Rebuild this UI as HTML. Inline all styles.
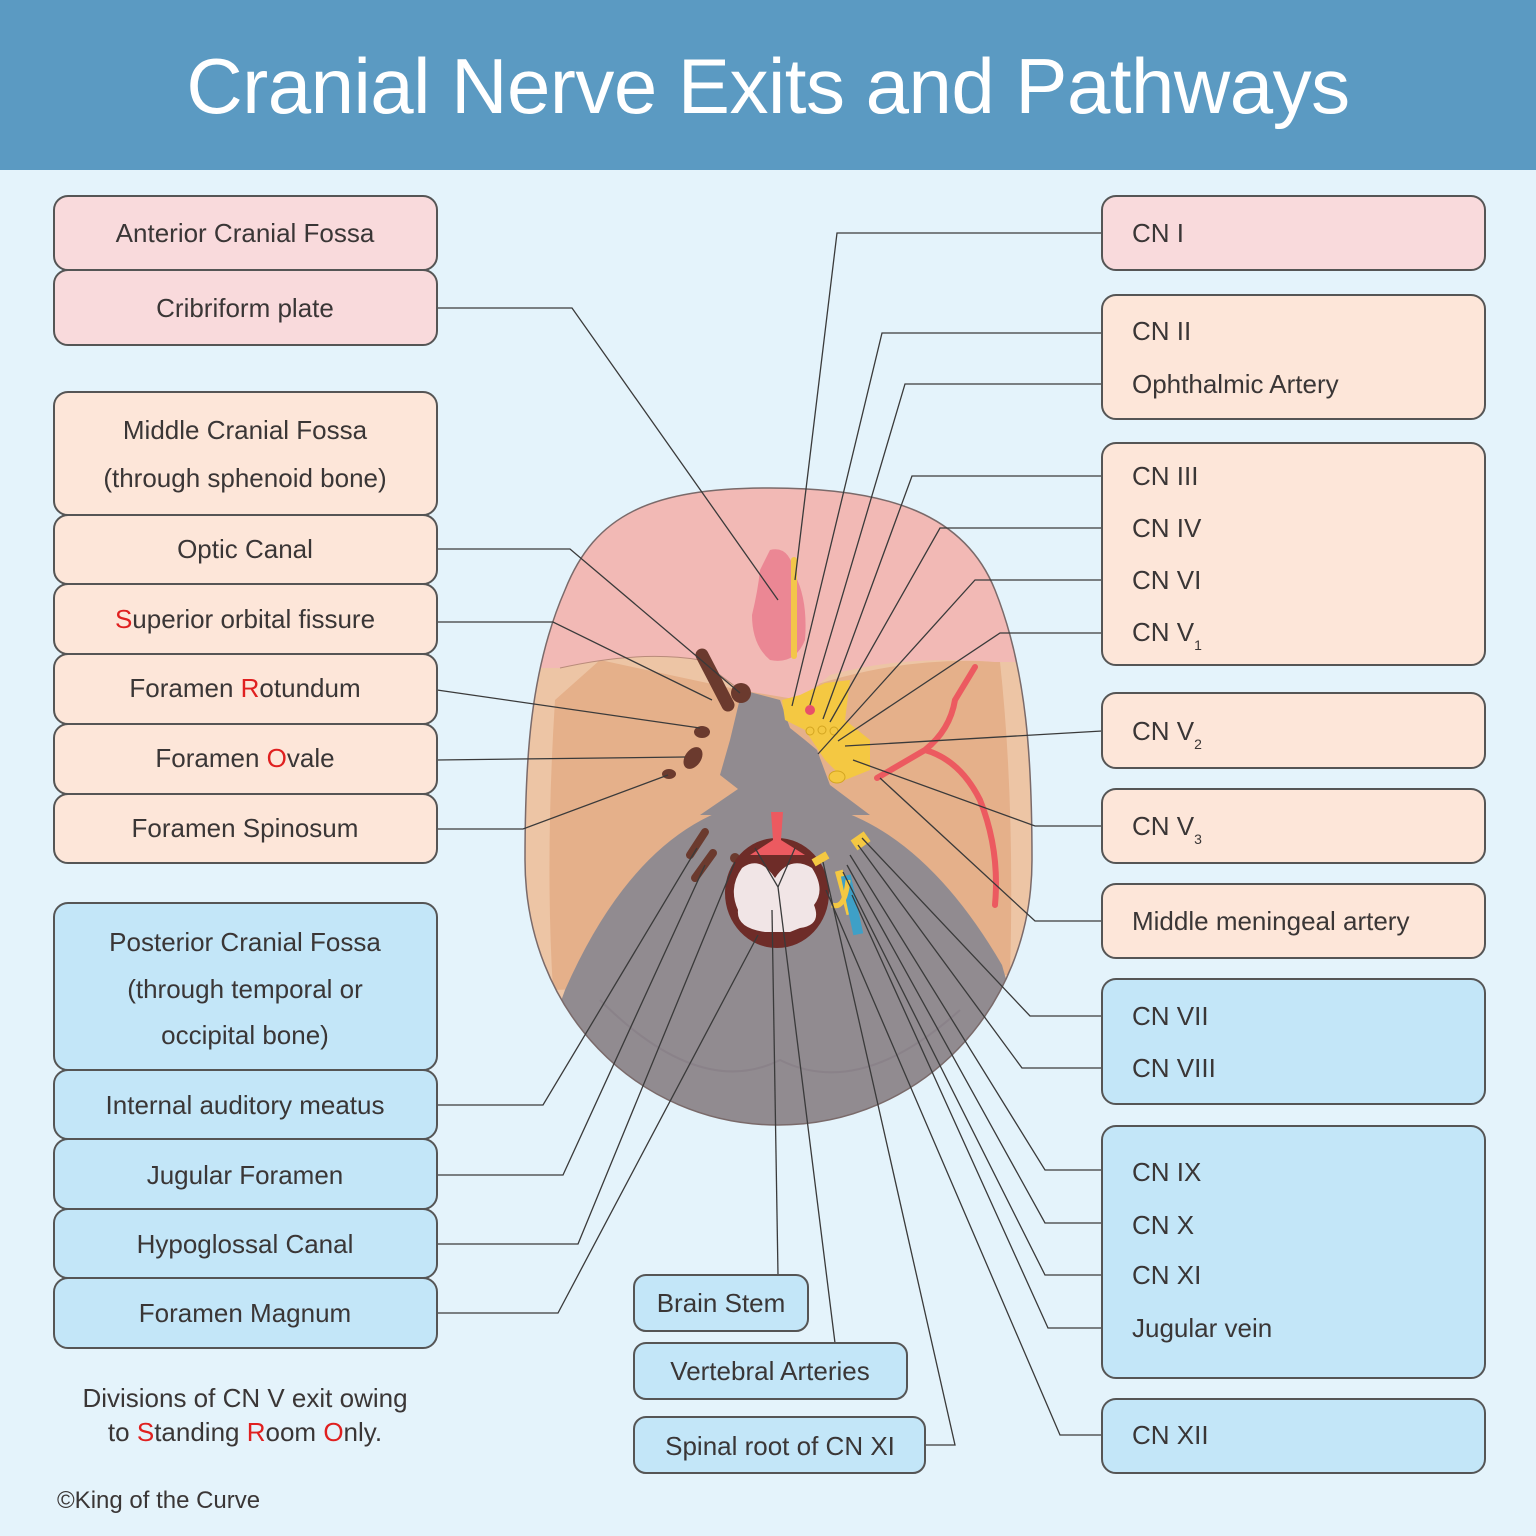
<!DOCTYPE html>
<html><head><meta charset="utf-8"><style>
html,body{margin:0;padding:0}
body{width:1536px;height:1536px;background:#e4f3fb;font-family:"Liberation Sans",sans-serif;position:relative;overflow:hidden}
.hdr{position:absolute;left:0;top:0;width:1536px;height:170px;background:#5b9ac2;color:#fff;font-size:78px;text-align:center;line-height:172px;letter-spacing:-0.5px}
svg{position:absolute;left:0;top:0}
.r{fill:#e02020}
</style></head><body>
<div class="hdr">Cranial Nerve Exits and Pathways</div>
<svg width="1536" height="1536" viewBox="0 0 1536 1536" font-family="Liberation Sans, sans-serif" font-size="26" fill="#3a3636">
<defs>
<clipPath id="sk"><path d="M770,488 C890,488 965,515 995,590 C1027,670 1032,760 1032,860 C1032,1010 920,1125 778,1125 C636,1125 525,1010 525,860 C525,760 530,670 565,590 C595,515 650,488 770,488Z"/></clipPath>
</defs>
<g clip-path="url(#sk)">
<rect x="500" y="470" width="560" height="700" fill="#edc5a5"/>
<path d="M553,990 Q545,860 555,700 L600,660 L740,690 L800,690 Q900,655 1000,662 Q1015,800 1010,975Z" fill="#e5b08a"/>
<path d="M500,668 L560,668 Q640,650 700,660 L740,690 L800,700 L830,675 Q900,655 995,662 L1060,662 L1060,470 L500,470Z" fill="#f2b9b5"/>
<path d="M560,668 Q640,650 700,660 L740,690" fill="none" stroke="#b98b7a" stroke-width="1"/>
<path d="M565,990 Q640,820 760,800 Q900,790 1002,965 L1060,1170 L500,1170Z" fill="#918b90"/>
<path d="M742,690 L780,700 L790,728 L805,740 L817,750 L830,785 L870,815 L700,815 L738,789 L720,775 L730,740Z" fill="#918b90"/>
<path d="M600,1000 Q700,1100 780,1060 Q860,1100 960,1010" fill="none" stroke="#8a8289" stroke-width="2"/>
</g>
<path d="M770,488 C890,488 965,515 995,590 C1027,670 1032,760 1032,860 C1032,1010 920,1125 778,1125 C636,1125 525,1010 525,860 C525,760 530,670 565,590 C595,515 650,488 770,488Z" fill="none" stroke="#7a6a6a" stroke-width="1.5"/>
<path d="M770,550 Q790,545 795,575 Q808,600 805,640 Q795,665 770,660 Q752,645 752,615 Q758,590 760,570Z" fill="#eb8794"/>
<line x1="794" y1="560" x2="794" y2="656" stroke="#f3c64a" stroke-width="6" stroke-linecap="round"/>
<path d="M702,655 L728,705" stroke="#6b3a2e" stroke-width="13" stroke-linecap="round"/>
<circle cx="741" cy="693" r="10" fill="#6b3a2e"/>
<ellipse cx="702" cy="732" rx="8" ry="6" fill="#6b3a2e"/>
<ellipse cx="693" cy="758" rx="8" ry="12" transform="rotate(35 693 758)" fill="#6b3a2e"/>
<ellipse cx="669" cy="774" rx="7" ry="5" fill="#6b3a2e"/>
<path d="M705,832 L690,855" stroke="#6b3a2e" stroke-width="8" stroke-linecap="round"/>
<path d="M713,853 L695,878" stroke="#6b3a2e" stroke-width="8" stroke-linecap="round"/>
<circle cx="735" cy="858" r="5" fill="#6b3a2e"/>
<path d="M782,700 L800,695 L825,683 L850,680 L845,720 L870,740 L870,770 L845,780 L825,760 L805,730 L785,720Z" fill="#f4c842"/>
<circle cx="810" cy="710" r="5" fill="#e8506a"/>
<ellipse cx="837" cy="777" rx="8" ry="6" fill="#f4c842" stroke="#d3a520"/>
<circle cx="810" cy="731" r="4" fill="#f4c842" stroke="#d3a520"/>
<circle cx="822" cy="730" r="4" fill="#f4c842" stroke="#d3a520"/>
<circle cx="834" cy="731" r="4" fill="#f4c842" stroke="#d3a520"/>
<path d="M877,778 L925,750 Q950,730 955,700 L975,667 M925,750 Q960,760 980,800 Q1000,850 995,905" fill="none" stroke="#ec5a60" stroke-width="6" stroke-linecap="round"/>
<ellipse cx="777" cy="893" rx="52" ry="55" fill="#6e2c28"/>
<path d="M742,868 Q760,855 775,878 Q790,855 812,868 Q826,890 814,905 Q822,925 800,928 L790,932 L765,932 Q736,928 738,910 Q728,888 742,868Z" fill="#f1e5e6"/>
<path d="M771,812 L783,812 L781,840 L805,855 L750,855 L773,840Z" fill="#ec5a60"/>
<rect x="840" y="870" width="8" height="45" fill="#f4c842" transform="rotate(-15 844 890)"/>
<rect x="846" y="875" width="10" height="60" fill="#3ea0c7" transform="rotate(-12 851 900)"/>
<rect x="852" y="835" width="16" height="12" fill="#f4c842" transform="rotate(-35 860 840)"/>
<rect x="812" y="855" width="16" height="8" fill="#f4c842" transform="rotate(-30 820 858)"/>
<path d="M832,905 Q845,910 848,880" fill="none" stroke="#f4c842" stroke-width="5"/>
<g fill="none" stroke="#3a3a3a" stroke-width="1.3">
<polyline points="437,308 572,308 778,600"/>
<polyline points="437,549 570,549 740,693"/>
<polyline points="437,622 553,622 712,700"/>
<polyline points="437,690 700,728"/>
<polyline points="437,760 685,757"/>
<polyline points="437,829 523,829 668,775"/>
<polyline points="437,1105 543,1105 697,848"/>
<polyline points="437,1175 563,1175 705,865"/>
<polyline points="437,1244 578,1244 735,862"/>
<polyline points="437,1313 558,1313 758,935"/>
<polyline points="778,1275 772,910"/>
<polyline points="835,1343 778,887 755,848"/>
<polyline points="778,887 795,848"/>
<polyline points="925,1445 955,1445 823,862"/>
<polyline points="1102,233 837,233 795,580"/>
<polyline points="1102,333 882,333 792,706"/>
<polyline points="1102,384 905,384 810,705"/>
<polyline points="1102,476 912,476 823,719"/>
<polyline points="1102,528 940,528 830,722"/>
<polyline points="1102,580 975,580 818,754"/>
<polyline points="1102,633 1000,633 838,741"/>
<polyline points="1102,731 845,746"/>
<polyline points="1102,826 1035,826 853,760"/>
<polyline points="1102,921 1035,921 880,778"/>
<polyline points="1102,1016 1030,1016 862,838"/>
<polyline points="1102,1068 1022,1068 858,845"/>
<polyline points="1102,1170 1045,1170 850,855"/>
<polyline points="1102,1223 1045,1223 847,865"/>
<polyline points="1102,1275 1045,1275 843,872"/>
<polyline points="1102,1328 1048,1328 852,895"/>
<polyline points="1102,1435 1060,1435 826,890"/>
</g>
<g stroke="#555" stroke-width="2">
<rect x="54" y="196" width="383" height="74" rx="14" fill="#f9dadc"/>
<rect x="54" y="270" width="383" height="75" rx="14" fill="#f9dadc"/>
<rect x="54" y="392" width="383" height="123" rx="14" fill="#fde6d9"/>
<rect x="54" y="515" width="383" height="69" rx="14" fill="#fde6d9"/>
<rect x="54" y="584" width="383" height="70" rx="14" fill="#fde6d9"/>
<rect x="54" y="654" width="383" height="70" rx="14" fill="#fde6d9"/>
<rect x="54" y="724" width="383" height="70" rx="14" fill="#fde6d9"/>
<rect x="54" y="794" width="383" height="69" rx="14" fill="#fde6d9"/>
<rect x="54" y="903" width="383" height="167" rx="14" fill="#c3e6f8"/>
<rect x="54" y="1070" width="383" height="69" rx="14" fill="#c3e6f8"/>
<rect x="54" y="1139" width="383" height="70" rx="14" fill="#c3e6f8"/>
<rect x="54" y="1209" width="383" height="69" rx="14" fill="#c3e6f8"/>
<rect x="54" y="1278" width="383" height="70" rx="14" fill="#c3e6f8"/>
<rect x="1102" y="196" width="383" height="74" rx="14" fill="#f9dadc"/>
<rect x="1102" y="295" width="383" height="124" rx="14" fill="#fde6d9"/>
<rect x="1102" y="443" width="383" height="222" rx="14" fill="#fde6d9"/>
<rect x="1102" y="693" width="383" height="75" rx="14" fill="#fde6d9"/>
<rect x="1102" y="789" width="383" height="74" rx="14" fill="#fde6d9"/>
<rect x="1102" y="884" width="383" height="74" rx="14" fill="#fde6d9"/>
<rect x="1102" y="979" width="383" height="125" rx="14" fill="#c3e6f8"/>
<rect x="1102" y="1126" width="383" height="252" rx="14" fill="#c3e6f8"/>
<rect x="1102" y="1399" width="383" height="74" rx="14" fill="#c3e6f8"/>
<rect x="634" y="1275" width="174" height="56" rx="12" fill="#c3e6f8"/>
<rect x="634" y="1343" width="273" height="56" rx="12" fill="#c3e6f8"/>
<rect x="634" y="1417" width="291" height="56" rx="12" fill="#c3e6f8"/>
</g>
<g text-anchor="middle">
<text x="245" y="242">Anterior Cranial Fossa</text>
<text x="245" y="317">Cribriform plate</text>
<text x="245" y="439">Middle Cranial Fossa</text>
<text x="245" y="487">(through sphenoid bone)</text>
<text x="245" y="558">Optic Canal</text>
<text x="245" y="628"><tspan class="r">S</tspan>uperior orbital fissure</text>
<text x="245" y="697">Foramen <tspan class="r">R</tspan>otundum</text>
<text x="245" y="767">Foramen <tspan class="r">O</tspan>vale</text>
<text x="245" y="837">Foramen Spinosum</text>
<text x="245" y="951">Posterior Cranial Fossa</text>
<text x="245" y="998">(through temporal or</text>
<text x="245" y="1044">occipital bone)</text>
<text x="245" y="1114">Internal auditory meatus</text>
<text x="245" y="1184">Jugular Foramen</text>
<text x="245" y="1253">Hypoglossal Canal</text>
<text x="245" y="1322">Foramen Magnum</text>
<text x="245" y="1407">Divisions of CN V exit owing</text>
<text x="245" y="1441">to <tspan class="r">S</tspan>tanding <tspan class="r">R</tspan>oom <tspan class="r">O</tspan>nly.</text>
<text x="721" y="1312">Brain Stem</text>
<text x="770" y="1380">Vertebral Arteries</text>
<text x="780" y="1455">Spinal root of CN XI</text>
</g>
<text x="57" y="1508" font-size="24">©King of the Curve</text>
<g>
<text x="1132" y="242">CN I</text>
<text x="1132" y="340">CN II</text>
<text x="1132" y="393">Ophthalmic Artery</text>
<text x="1132" y="485">CN III</text>
<text x="1132" y="537">CN IV</text>
<text x="1132" y="589">CN VI</text>
<text x="1132" y="641">CN V<tspan font-size="14" dy="9">1</tspan></text>
<text x="1132" y="740">CN V<tspan font-size="14" dy="9">2</tspan></text>
<text x="1132" y="835">CN V<tspan font-size="14" dy="9">3</tspan></text>
<text x="1132" y="930">Middle meningeal artery</text>
<text x="1132" y="1025">CN VII</text>
<text x="1132" y="1077">CN VIII</text>
<text x="1132" y="1181">CN IX</text>
<text x="1132" y="1234">CN X</text>
<text x="1132" y="1284">CN XI</text>
<text x="1132" y="1337">Jugular vein</text>
<text x="1132" y="1444">CN XII</text>
</g>
</svg>
</body></html>
